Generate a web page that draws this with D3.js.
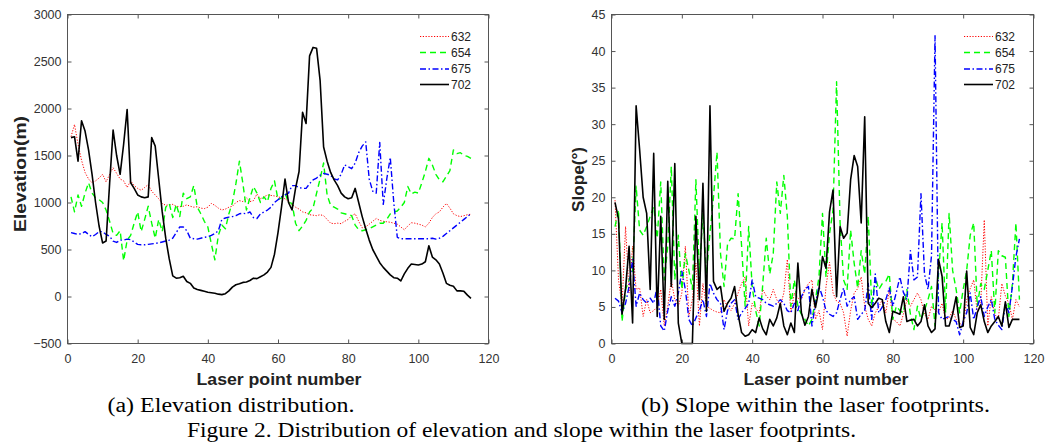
<!DOCTYPE html>
<html>
<head>
<meta charset="utf-8">
<script src="https://cdn.jsdelivr.net/npm/d3@7"></script>
<style>
  body { margin: 0; background: #fff; }
  svg { display: block; }
</style>
</head>
<body>
<svg id="fig" width="1046" height="443"></svg>
<script>
// series names (wavelength of the band)
var seriesNames = ["632", "654", "675", "702"];

var xTicks = [0, 20, 40, 60, 80, 100, 120];
var elevTicks = [-500, 0, 500, 1000, 1500, 2000, 2500, 3000];
var slopeTicks = [0, 5, 10, 15, 20, 25, 30, 35, 40, 45];

// (a) elevation (m) per laser point
var elev632 = [1700, 1830, 1620, 1450, 1320, 1250, 1210, 1230, 1260, 1300,
  1220, 1300, 1370, 1310, 1250, 1230, 1160, 1230, 1180, 1150,
  1130, 1160, 1190, 1120, 1080, 1040, 990, 970, 975, 980,
  960, 955, 960, 975, 960, 950, 955, 940, 935, 950,
  990, 970, 940, 920, 930, 950, 960, 1000, 1020, 1010,
  1050, 1010, 1020, 1090, 1040, 1060, 1080, 1075, 1070, 1060,
  1050, 1040, 1010, 980, 950, 930, 900, 890, 870, 865,
  860, 870, 860, 820, 780, 775, 780, 775, 800, 820,
  860, 880, 800, 730, 740, 770, 800, 830, 810, 800,
  795, 790, 780, 770, 740, 710, 750, 785, 780, 770,
  760, 740, 780, 840, 880, 900, 950, 990, 940, 880,
  860, 850, 860, 870, 875];

var elev654 = [1060, 900, 1080, 960, 1100, 1210, 1100, 1050, 1030, 1000,
  920, 800, 670, 650, 700, 380, 600, 650, 780, 900,
  690, 820, 960, 780, 620, 820, 690, 950, 990, 840,
  980, 850, 1100, 1040, 1060, 1180, 950, 880, 800, 740,
  560, 390, 650, 760, 720, 880, 1000, 1200, 1440, 1200,
  920, 1050, 1170, 1100, 1000, 1060, 1010, 1150, 1230, 1030,
  1050, 1100, 1000, 990, 780, 700, 750, 810, 900, 940,
  1100, 1250, 1420, 1080, 970, 950, 930, 890, 880, 870,
  860, 760, 710, 700, 710, 720, 740, 760, 780, 780,
  820, 880, 900, 910, 950, 1000, 1170, 1090, 1110, 1100,
  1210, 1330, 1470, 1400, 1300, 1240, 1220, 1280, 1340, 1560,
  1520, 1530, 1500, 1490, 1470];

var elev675 = [680, 670, 660, 670, 690, 660, 635, 660, 690, 690,
  660, 640, 590, 575, 600, 600, 610, 605, 580, 555,
  550, 550, 555, 560, 565, 570, 580, 590, 600, 620,
  680, 740, 740, 700, 620, 615, 610, 620, 630, 635,
  650, 670, 700, 820, 835, 845, 850, 860, 880, 885,
  880, 900, 840, 830, 880, 900, 920, 950, 1000, 1030,
  1060, 1080, 1100, 1180, 1180, 1160, 1150, 1150, 1200, 1240,
  1260, 1290, 1310, 1300, 1290, 1250, 1240, 1300, 1400, 1380,
  1360, 1420, 1530, 1600, 1645, 1250, 1120, 1100, 1640, 980,
  1250, 1480, 1000, 630, 615, 615, 615, 615, 615, 615,
  615, 615, 615, 620, 610, 620, 640, 670, 700, 730,
  760, 790, 820, 850, 880];

var elev702 = [1690, 1700, 1440, 1870, 1760, 1560, 1300, 1000, 750, 570,
  590, 1200, 1770, 1500, 1300, 1620, 1990, 1210, 1150, 1080,
  1060, 1050, 1060, 1690, 1600, 1250, 900, 620, 400, 220,
  195, 200, 215, 160, 140, 90, 75, 65, 55, 45,
  40, 35, 25, 20, 30, 60, 100, 125, 135, 150,
  155, 170, 195, 190, 210, 230, 260, 310, 450, 680,
  950, 1250, 1000, 920, 1150, 1330, 1960, 1840, 2560, 2650,
  2640, 2300, 1590, 1440, 1320, 1240, 1180, 1100, 1060, 1040,
  1050, 1150, 1000, 850, 720, 600, 500, 430, 360, 310,
  270, 230, 200, 195, 165, 240, 300, 345, 340, 335,
  345, 370, 540, 420, 390, 345, 250, 140, 120, 110,
  60, 60, 55, 15, -20];

// (b) slope (degrees) within the laser footprints
var slope632 = [19.6, 8.7, 5.1, 16, 6.9, 13.3, 7.4, 7.6, 3.7, 6,
  4.2, 4.5, 5, 7.4, 2.4, 5.1, 8.7, 6, 5.1, 6.9,
  13.3, 3.7, 6, 11, 2.4, 8.2, 5.1, 4.8, 4.5, 4.3,
  4.2, 6, 5, 4.5, 5.5, 6.9, 8.2, 9.1, 2.4, 5.5,
  4.8, 4.2, 7.4, 6.5, 6, 7.4, 6, 5.1, 6.9, 11.5,
  4.2, 6.9, 6.2, 6, 7.4, 8.2, 8.7, 3.3, 4.5, 1.9,
  7.8, 11.1, 6.9, 5.8, 5.5, 4.2, 1, 4.5, 6.9, 7.5,
  9.1, 5.1, 3.3, 2.4, 4.2, 5, 6, 4.2, 7.4, 3.3,
  3, 2.4, 4, 6, 5.1, 6, 6.9, 6, 4, 3.3,
  5.1, 4.6, 4.2, 5.5, 3.3, 3.5, 4.5, 3.3, 2.8, 2.4,
  6, 7.5, 8.7, 4.2, 5.5, 16.9, 2.4, 6.4, 4, 3.3,
  8.2, 6.5, 5.5, 3.3, 6, 5];

var slope654 = [16, 18.3, 3, 7.4, 8.7, 9.9, 21.5, 15.5, 14.8, 16,
  17.4, 18.7, 14.4, 22.1, 8.7, 13.3, 24.2, 8.7, 14.8, 7.4,
  12.3, 10, 7.4, 22.4, 9.5, 17.8, 9.5, 15.1, 20, 26.2,
  12.3, 7.8, 13.6, 14.4, 14.3, 20.5, 13.3, 5.1, 16, 7.8,
  4.5, 2.4, 8, 14.4, 9.5, 12.3, 22.1, 17.8, 23, 17.4,
  5.1, 8.7, 5.1, 4, 3.3, 2.4, 3.3, 6, 9.1, 17.8,
  9.1, 15, 18.3, 35.8, 16.5, 8.7, 7.4, 15.5, 11, 7.6,
  12.7, 9.5, 17.4, 5.1, 9.1, 7.4, 8.2, 8.5, 9.5, 3.3,
  5.1, 4.5, 4.2, 7.4, 4, 1.9, 5.1, 3.3, 4.5, 6,
  7.8, 2.4, 9.5, 16.5, 4.2, 17.8, 10, 7.4, 4.2, 7.4,
  10, 14.8, 16.5, 5.1, 8.2, 7.4, 10, 12.7, 4.2, 12.7,
  12, 11.8, 3.7, 8.2, 16.5, 6];

var slope675 = [6.2, 5.8, 4.2, 5.5, 7.8, 11.5, 5.1, 6.9, 6, 5.5,
  6.2, 5.5, 7.8, 2.4, 1.7, 4.5, 6.4, 5.1, 6.9, 9.9,
  7.4, 3.3, 2.4, 3.5, 4.5, 6, 3.7, 8.2, 6.9, 6,
  5.5, 1.9, 4.5, 5.5, 6, 3.3, 4.2, 4.8, 5.5, 8.7,
  6.4, 6.2, 6, 5.5, 5.3, 5.1, 5.5, 6, 5.5, 4.5,
  4.2, 5.5, 4.5, 6.4, 7.4, 7.8, 2.4, 5.5, 7.8, 6.4,
  4.5, 4, 3.7, 4.2, 6, 7.6, 5.1, 6, 6.4, 3.3,
  4, 4.5, 8.2, 3.3, 9.5, 4.2, 5, 6, 7.6, 5.1,
  7, 9.1, 7, 6, 12.7, 8.7, 9.1, 20.5, 9.5, 7.4,
  12, 42.1, 4.2, 3.3, 3.5, 3.7, 3.3, 3, 1.2, 3,
  4.2, 6.9, 3.3, 5, 6.4, 3.7, 5, 6, 3.3, 2.5,
  1.9, 5.5, 4.2, 7.8, 11.9, 14.3];

var slope702 = [19.3, 17, 4, 7.5, 13.3, 2.8, 32.5, 26.5, 20, 17.8,
  7.4, 26, 3.7, 17.4, 3.3, 22.2, 7.8, 24.6, 2.8, 0,
  0, 0, 0, 17.4, 6, 21.9, 4.4, 32.5, 8.5, 7.4,
  7.8, 4.4, 5.5, 6.2, 7.8, 4, 1.5, 1, 1.2, 1.9,
  1.5, 3.5, 2, 1.2, 3.3, 2.4, 3.5, 5.5, 2.4, 1.2,
  2.8, 1.5, 11, 4.2, 2.5, 3.7, 7.4, 4.9, 7.4, 11.9,
  10.3, 18, 21, 6.4, 16, 14.4, 15.1, 22.4, 25.7, 24.2,
  16.5, 31, 5.5, 4.9, 5.5, 6.2, 6, 3, 1.5, 4.4,
  4.2, 4, 6.4, 3, 3.2, 3.3, 2.4, 3, 5.3, 2.4,
  1.5, 2, 11.5, 9.2, 2.4, 2.4, 4, 6.4, 2.2, 2.4,
  9.9, 2.2, 1.2, 4.2, 5.3, 3, 1.5, 2.4, 3, 3.7,
  2.4, 5.7, 2.2, 3.3, 3.3, 3.3];

var styles = [
  {color: "#ff0000", width: 1, dash: "1.2,1.6"},
  {color: "#00ff00", width: 1.4, dash: "6,4"},
  {color: "#0000ff", width: 1.4, dash: "6,2.5,1.5,2.5"},
  {color: "#000000", width: 1.6, dash: null}
];

var svg = d3.select("#fig"),
  sansFont = "'Liberation Sans', Arial, sans-serif",
  serifFont = "'Liberation Serif', 'Times New Roman', serif",
  axisColor = "#555";

svg.append("rect").attr("width", 1046).attr("height", 443).attr("fill", "#fff");

function drawPanel(p) {
  var x = d3.scaleLinear().domain([0, 120]).range([p.left, p.right]),
    y = d3.scaleLinear().domain(p.yDomain).range([p.bottom, p.top]),
    plain = d3.format("d"),
    g = svg.append("g");

  function styleAxis(sel) {
    sel.select(".domain").remove();
    sel.selectAll(".tick line").attr("stroke", axisColor);
    sel.selectAll(".tick text")
      .attr("fill", "#333")
      .style("font-family", sansFont)
      .style("font-size", "12.5px");
  }

  g.append("g")
    .attr("transform", "translate(0," + p.bottom + ")")
    .call(d3.axisBottom(x).tickValues(xTicks).tickFormat(plain)
      .tickSizeInner(-4).tickSizeOuter(0).tickPadding(11))
    .call(styleAxis);
  g.append("g")
    .attr("transform", "translate(0," + p.top + ")")
    .call(d3.axisTop(x).tickValues(xTicks).tickSizeInner(-4).tickSizeOuter(0).tickFormat(""))
    .call(styleAxis);
  g.append("g")
    .attr("transform", "translate(" + p.left + ",0)")
    .call(d3.axisLeft(y).tickValues(p.yTicks).tickFormat(plain)
      .tickSizeInner(-4).tickSizeOuter(0).tickPadding(6))
    .call(styleAxis);
  g.append("g")
    .attr("transform", "translate(" + p.right + ",0)")
    .call(d3.axisRight(y).tickValues(p.yTicks).tickSizeInner(-4).tickSizeOuter(0).tickFormat(""))
    .call(styleAxis);

  var line = d3.line()
    .x(function(d, i) { return x(i + 1); })
    .y(function(d) { return y(d); });

  p.series.forEach(function(values, i) {
    var s = styles[i];
    g.append("path")
      .datum(values)
      .attr("fill", "none")
      .attr("stroke", s.color)
      .attr("stroke-width", s.width)
      .attr("stroke-dasharray", s.dash)
      .attr("stroke-linejoin", "round")
      .attr("d", line);
  });

  // box
  g.append("rect")
    .attr("x", p.left).attr("y", p.top)
    .attr("width", p.right - p.left).attr("height", p.bottom - p.top)
    .attr("fill", "none").attr("stroke", axisColor).attr("stroke-width", 1);

  // legend (no box)
  var legend = g.append("g").attr("class", "legend");
  seriesNames.forEach(function(name, i) {
    var ly = p.legendY[i], s = styles[i];
    legend.append("line")
      .attr("x1", p.legendX).attr("x2", p.legendX + 29)
      .attr("y1", ly).attr("y2", ly)
      .attr("stroke", s.color).attr("stroke-width", s.width)
      .attr("stroke-dasharray", s.dash);
    legend.append("text")
      .attr("x", p.legendX + 31).attr("y", ly)
      .attr("dy", "0.35em")
      .style("font-family", sansFont).style("font-size", "12px")
      .attr("fill", "#222")
      .text(name);
  });

  // axis titles
  g.append("text")
    .attr("x", p.xLabelX).attr("y", 385)
    .attr("text-anchor", "middle")
    .attr("textLength", 165).attr("lengthAdjust", "spacingAndGlyphs")
    .style("font-family", sansFont).style("font-size", "16px").style("font-weight", "bold")
    .attr("fill", "#222")
    .text("Laser point number");
  g.append("text")
    .attr("transform", "translate(" + p.yLabelX + "," + p.yLabelY + ") rotate(-90)")
    .attr("text-anchor", "middle")
    .attr("textLength", p.yLabelLen).attr("lengthAdjust", "spacingAndGlyphs")
    .style("font-family", sansFont).style("font-size", "16px").style("font-weight", "bold")
    .attr("fill", "#222")
    .text(p.yLabel);

  // sub caption
  g.append("text")
    .attr("x", p.captionX).attr("y", 412)
    .attr("text-anchor", "middle")
    .attr("textLength", p.captionLen).attr("lengthAdjust", "spacingAndGlyphs")
    .style("font-family", serifFont).style("font-size", "20px")
    .attr("fill", "#000")
    .text(p.caption);
}

drawPanel({
  left: 67.5, right: 488.5, top: 14.5, bottom: 343.5,
  yDomain: [-500, 3000], yTicks: elevTicks,
  series: [elev632, elev654, elev675, elev702],
  legendX: 420, legendY: [36.5, 52.5, 69, 84.5],
  xLabelX: 279, yLabel: "Elevation(m)", yLabelX: 26, yLabelY: 174, yLabelLen: 116,
  caption: "(a) Elevation distribution.", captionX: 231, captionLen: 247
});

drawPanel({
  left: 611.5, right: 1033.5, top: 14.5, bottom: 343.5,
  yDomain: [0, 45], yTicks: slopeTicks,
  series: [slope632, slope654, slope675, slope702],
  legendX: 964, legendY: [36.5, 52.5, 69, 84.5],
  xLabelX: 826, yLabel: "Slope(°)", yLabelX: 584, yLabelY: 179.5, yLabelLen: 65,
  caption: "(b) Slope within the laser footprints.", captionX: 815.5, captionLen: 349
});

svg.append("text")
  .attr("x", 521.5).attr("y", 437)
  .attr("text-anchor", "middle")
  .attr("textLength", 669).attr("lengthAdjust", "spacingAndGlyphs")
  .style("font-family", serifFont).style("font-size", "20px")
  .attr("fill", "#000")
  .text("Figure 2. Distribution of elevation and slope within the laser footprints.");
</script>
</body>
</html>
